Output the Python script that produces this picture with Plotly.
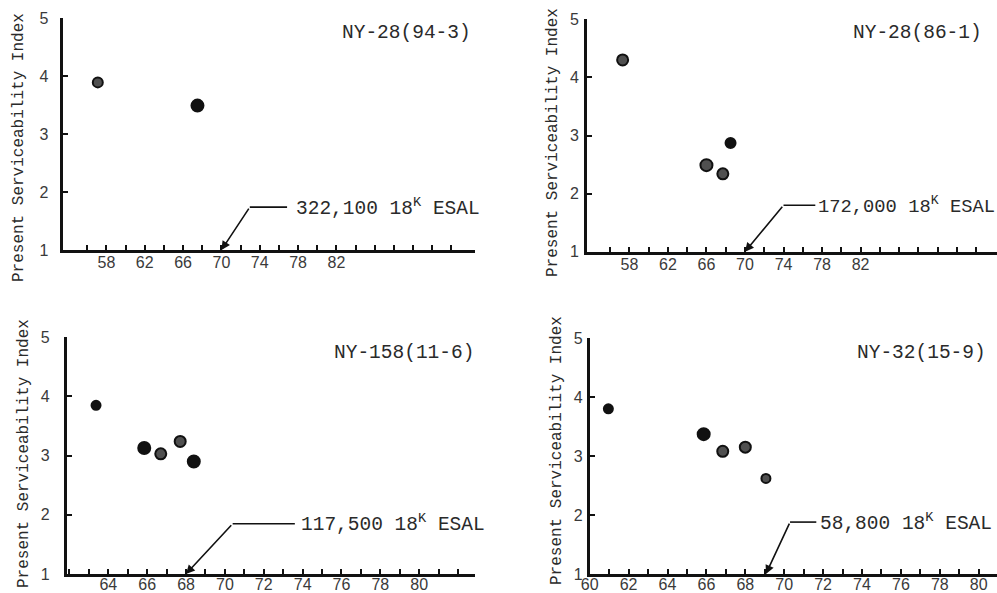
import plotly.graph_objects as go

# ---------------- data ----------------
panel_titles = ["NY-28(94-3)", "NY-28(86-1)", "NY-158(11-6)", "NY-32(15-9)"]
esal_labels = ["322,100 18<sup>K</sup> ESAL", "172,000 18<sup>K</sup> ESAL",
               "117,500 18<sup>K</sup> ESAL", "58,800 18<sup>K</sup> ESAL"]
y_axis_title = "Present Serviceability Index"

p1_x = [57.1, 67.5]
p1_y = [3.89, 3.49]
p2_x = [57.3, 66.0, 67.7, 68.5]
p2_y = [4.30, 2.49, 2.34, 2.87]
p3_x = [63.37, 65.85, 66.7, 67.7, 68.4]
p3_y = [3.85, 3.13, 3.03, 3.24, 2.90]
p4_x = [60.96, 65.86, 66.84, 68.0, 69.06]
p4_y = [3.80, 3.37, 3.08, 3.15, 2.62]

# ESAL marker: x where the arrow hits the axis, elbow x/y, end of horizontal leader
esal_arrow_x = [70.0, 70.0, 68.0, 69.06]
esal_elbow_x = [72.96, 74.0, 70.4, 70.3]
esal_elbow_y = [1.74, 1.80, 1.85, 1.88]
esal_line_end = [76.85, 77.3, 73.6, 71.65]
esal_text_x = [77.6, 77.35, 73.8, 71.75]

y_ticks = [1, 2, 3, 4, 5]
top_ticks = [56, 58, 60, 62, 64, 66, 68, 70, 72, 74, 76, 78, 80, 82, 84, 86, 88, 90, 92, 94]
top_labels = ["58", "62", "66", "70", "74", "78", "82"]
p3_ticks = list(range(62, 83))
p3_labels = ["64", "66", "68", "70", "72", "74", "76", "78", "80"]
p4_ticks = list(range(60, 81))
p4_labels = ["60", "62", "64", "66", "68", "70", "72", "74", "76", "78", "80"]

# ---------------- styles ----------------
p1_sizes, p1_ring = [10, 12], [1, 0]
p2_sizes, p2_ring = [11, 12, 11, 10], [1, 1, 1, 0]
p3_sizes, p3_ring = [9, 12, 11, 11, 12], [0, 0, 1, 1, 0]
p4_sizes, p4_ring = [9, 12, 11, 11, 9], [0, 0, 1, 1, 1]

W, H = 997, 593
INK = "#111111"
MONO = "Liberation Mono, Courier New, monospace"
SANS = "Liberation Sans, Arial, sans-serif"

# pixel geometry of each panel: (x_left_px, x_right_px, y_top_px(=5), y_bottom_px(=1))
geom = [(63.3, 475, 18, 250), (587, 997, 19.3, 251.7),
        (66.7, 475, 337.3, 574), (589.7, 997, 338, 574)]
xranges = [[53.5, 96.46], [53.6, 96.16], [61.86, 82.87], [60.0, 80.94]]
ystandoff = [9, 2, 11, 1]
xstandoff = [-4, -4, -6, -6]
esal_font = [19.5, 18.8, 19.5, 19.5]

panels = [
    (p1_x, p1_y, p1_sizes, p1_ring, top_ticks, top_labels),
    (p2_x, p2_y, p2_sizes, p2_ring, top_ticks, top_labels),
    (p3_x, p3_y, p3_sizes, p3_ring, p3_ticks, p3_labels),
    (p4_x, p4_y, p4_sizes, p4_ring, p4_ticks, p4_labels),
]
title_pos = [(340, 33), (851, 33), (332, 353), (855, 353)]
ytitle_pos = [(19, 148), (553, 143), (24, 454), (557, 451)]

fig = go.Figure()
layout = dict(width=W, height=H, margin=dict(l=0, r=0, t=0, b=0, autoexpand=False),
              paper_bgcolor="white", plot_bgcolor="white", showlegend=False)

for i, (xs, ys, sizes, ring, ticks, labels) in enumerate(panels):
    k = "" if i == 0 else str(i + 1)
    xl, xr, yt, yb = geom[i]
    label_set = set(labels)
    ticktext = [str(t) if str(t) in label_set else "" for t in ticks]
    layout["xaxis" + k] = dict(
        domain=[xl / W, xr / W], range=xranges[i], anchor="y" + k, automargin=False,
        showgrid=False, zeroline=False, showline=True, linecolor=INK, linewidth=2.6,
        ticks="inside", ticklen=5, tickwidth=1.6, tickcolor=INK,
        tickvals=ticks, ticktext=ticktext, ticklabelstandoff=xstandoff[i],
        tickfont=dict(family=SANS, size=16, color="#3a3a3a"), fixedrange=True)
    layout["yaxis" + k] = dict(
        domain=[1 - yb / H, 1 - yt / H], range=[1, 5.0], anchor="x" + k, automargin=False,
        showgrid=False, zeroline=False, showline=True, linecolor=INK, linewidth=2.6,
        ticks="inside", ticklen=5, tickwidth=1.6, tickcolor=INK,
        tickvals=y_ticks, ticklabelstandoff=ystandoff[i],
        tickfont=dict(family=SANS, size=16, color="#3a3a3a"), fixedrange=True)

    fills = ["#505050" if r else INK for r in ring]
    fig.add_trace(go.Scatter(
        x=xs, y=ys, mode="markers", xaxis="x" + k, yaxis="y" + k,
        marker=dict(size=sizes, color=fills, opacity=1, line=dict(color=INK, width=2)),
        cliponaxis=False, hoverinfo="skip"))

    # leader line: arrow from elbow to axis, horizontal to label
    fig.add_annotation(x=esal_arrow_x[i], y=1, ax=esal_elbow_x[i], ay=esal_elbow_y[i],
                       xref="x" + k, yref="y" + k, axref="x" + k, ayref="y" + k,
                       text="", showarrow=True, arrowhead=2, arrowsize=1.1,
                       arrowwidth=1.6, arrowcolor=INK)
    fig.add_shape(type="line", xref="x" + k, yref="y" + k,
                  x0=esal_elbow_x[i], y0=esal_elbow_y[i],
                  x1=esal_line_end[i], y1=esal_elbow_y[i],
                  line=dict(color=INK, width=1.6))
    fig.add_annotation(x=esal_text_x[i], y=esal_elbow_y[i], xref="x" + k, yref="y" + k,
                       text=esal_labels[i], showarrow=False, xanchor="left", yanchor="middle",
                       font=dict(family=MONO, size=esal_font[i], color="#2a2a2a"))

    tx, ty = title_pos[i]
    fig.add_annotation(x=tx / W, y=1 - ty / H, xref="paper", yref="paper",
                       text=panel_titles[i], showarrow=False, xanchor="left", yanchor="middle",
                       font=dict(family=MONO, size=19.5, color="#2a2a2a"))
    yx, yy = ytitle_pos[i]
    fig.add_annotation(x=yx / W, y=1 - yy / H, xref="paper", yref="paper",
                       text=y_axis_title, showarrow=False, textangle=-90,
                       xanchor="center", yanchor="middle",
                       font=dict(family=MONO, size=16, color="#2a2a2a"))

fig.update_layout(**layout)
fig.write_html("out.html", config={"displayModeBar": False},
               post_script="document.body.style.margin='0';document.body.style.overflow='hidden';")
